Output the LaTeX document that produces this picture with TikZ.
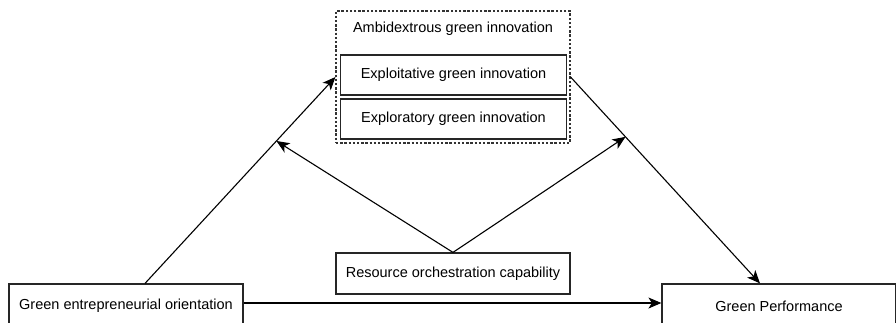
\documentclass[tikz,border=0pt]{standalone}
\usepackage{fontspec}
\setmainfont{Liberation Sans}
\usetikzlibrary{arrows.meta}
\begin{document}
\begin{tikzpicture}[x=1pt,y=-1pt,
  box/.style={draw=black!85,line width=1.2pt,inner sep=0pt,align=center,
    font=\fontsize{14.5}{17}\selectfont},
  dbox/.style={draw=black!80,line width=1.1pt,dash pattern=on 2.4pt off 1.8pt,inner sep=0pt},
  lbl/.style={inner sep=0pt,font=\fontsize{14.5}{17}\selectfont},
  conn/.style={line width=1.1pt,-{Stealth[length=13pt,width=11pt,inset=3.5pt]}},
  plain/.style={line width=1.1pt}]
\useasboundingbox (0,0) rectangle (896,322);
\fill[white] (0,0) rectangle (896,322);
\node[dbox,minimum width=234pt,minimum height=132pt] (amb) at (453,77) {};
\node[lbl] (ambt) at (453,29) {Ambidextrous green innovation};
\node[box,minimum width=226pt,minimum height=40pt] (exploit) at (453.5,75) {Exploitative green innovation};
\node[box,minimum width=226pt,minimum height=40pt] (explore) at (453.5,119) {Exploratory green innovation};
\node[box,minimum width=234pt,minimum height=41pt] (res) at (453,273.5) {Resource orchestration capability};
\node[box,minimum width=234pt,minimum height=44pt] (geo) at (126,306) {Green entrepreneurial orientation};
\node[box,minimum width=234pt,minimum height=44pt] (gp) at (779,306) {Green Performance};
\draw[conn] ([xshift=19pt]geo.north) -- (amb.west) coordinate[pos=0.69] (m1);
\draw[conn] (amb.east) -- ([xshift=-19pt]gp.north) coordinate[pos=0.29] (m2);
\draw[conn] (geo.east |- 0,303) -- (gp.west |- 0,303);
\draw[conn] (res.north) -- (m1);
\draw[conn] (res.north) -- (m2);
\end{tikzpicture}
\end{document}
